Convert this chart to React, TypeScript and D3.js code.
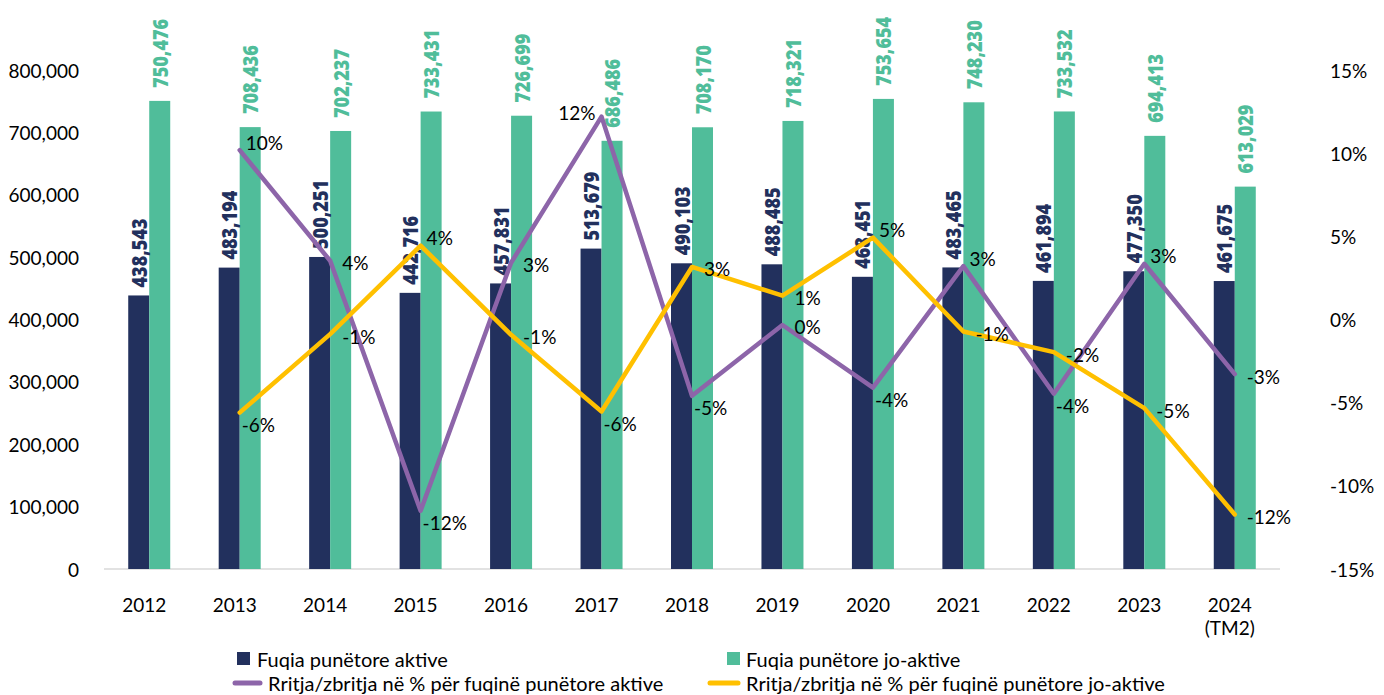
// @ts-nocheck
import * as d3 from "d3";

const years = ["2012", "2013", "2014", "2015", "2016", "2017", "2018", "2019", "2020", "2021", "2022", "2023", "2024"];
const yearSubLabels = ["", "", "", "", "", "", "", "", "", "", "", "", "(TM2)"];
const activeForce = [438543, 483194, 500251, 442716, 457831, 513679, 490103, 488485, 468451, 483465, 461894, 477350, 461675];
const inactiveForce = [750476, 708436, 702237, 733431, 726699, 686486, 708170, 718321, 753654, 748230, 733532, 694413, 613029];
const activeGrowth = [null, 10.18, 3.53, -11.5, 3.41, 12.2, -4.59, -0.33, -4.1, 3.21, -4.46, 3.35, -3.28];
const inactiveGrowth = [null, -5.6, -0.88, 4.44, -0.92, -5.53, 3.16, 1.43, 4.92, -0.72, -1.96, -5.33, -11.72];
const leftTicks = [0, 100000, 200000, 300000, 400000, 500000, 600000, 700000, 800000];
const rightTicks = [-15, -10, -5, 0, 5, 10, 15];

const NAVY = "#22305d";
const GREEN = "#50bd9a";
const PURPLE = "#8d65a9";
const YELLOW = "#ffc000";
const FONT = "Lato, 'Open Sans', sans-serif";
const BOLD_FONT = "'Open Sans', Roboto, sans-serif";

const width = 1384;
const height = 695;
const plotLeft = 104;
const plotRight = 1280;
const plotTop = 70;
const plotBottom = 569;

function pctLabel(v) {
  const r = Math.abs(v) < 0.5 ? 0 : v;
  return `${r.toFixed(0)}%`;
}

// where a growth label sits relative to its point: right, above-right, below-right, left
function placement(series, i) {
  const v = series[i];
  const neighbours = [series[i - 1], series[i + 1]].filter((n) => n != null);
  const valid = series.filter((n) => n != null);
  if (i === series.length - 1) return "right";
  if (v === d3.max(valid) && v > 10 && i > 1) return "left";
  if (neighbours.every((n) => n - v > 3)) return "below";
  if (neighbours.every((n) => v - n > 3)) return "above";
  return "right";
}

const offsets = {
  right: { dx: 12, dy: 2, anchor: "start" },
  above: { dx: 6, dy: -8, anchor: "start" },
  below: { dx: 2, dy: 12, anchor: "start" },
  left: { dx: -6, dy: -4, anchor: "end" },
};

export default function App() {
  const x = d3.scaleBand().domain(years).range([plotLeft, plotRight]).padding(0);
  const y = d3.scaleLinear().domain([0, 800000]).range([plotBottom, plotTop]);
  const y2 = d3.scaleLinear().domain([-15, 15]).range([plotBottom, plotTop]);
  const barW = 21;
  const cx = (yr) => x(yr) + x.bandwidth() / 2;

  const line = d3
    .line()
    .defined((d) => d[1] != null)
    .x((d) => cx(d[0]))
    .y((d) => y2(d[1]));

  const lineSeries = [
    { values: activeGrowth, color: PURPLE },
    { values: inactiveGrowth, color: YELLOW },
  ];

  // compute label spots, then fall back to "right" where the two series' labels would clash
  const labels = [];
  years.forEach((yr, i) => {
    const spots = lineSeries.map((s) => {
      const v = s.values[i];
      if (v == null) return null;
      return { key: s.color + yr, v, yr, side: placement(s.values, i) };
    });
    if (spots[0] && spots[1]) {
      const py = (sp) => y2(sp.v) + offsets[sp.side].dy;
      if (Math.abs(py(spots[0]) - py(spots[1])) < 22) {
        spots.forEach((sp) => (sp.side = "right"));
      }
    }
    spots.forEach((sp) => sp && labels.push(sp));
  });

  return (
    <div style={{ position: "absolute", left: 0, top: 0 }}>
      <svg width={width} height={height} style={{ display: "block", background: "#fff" }}>
        <line x1={plotLeft} x2={plotRight} y1={plotBottom} y2={plotBottom} stroke="#d9d9d9" strokeWidth={1.5} />

        <g fontFamily={FONT} fontSize={19} fill="#000">
          {leftTicks.map((t) => (
            <text key={t} x={79} y={y(t)} textAnchor="end" dominantBaseline="central">
              {d3.format(",")(t)}
            </text>
          ))}
        </g>
        <g fontFamily={FONT} fontSize={19} fill="#000">
          {rightTicks.map((t) => (
            <text key={t} x={1330} y={y2(t)} textAnchor="start" dominantBaseline="central">
              {`${t}%`}
            </text>
          ))}
        </g>
        <g fontFamily={FONT} fontSize={19} fill="#000" textAnchor="middle">
          {years.map((yr, i) => (
            <text key={yr} x={cx(yr) - 5} y={612}>
              {yr}
              {yearSubLabels[i] && (
                <tspan x={cx(yr) - 5} dy={23}>
                  {yearSubLabels[i]}
                </tspan>
              )}
            </text>
          ))}
        </g>

        {years.map((yr, i) => (
          <g key={yr}>
            <rect x={cx(yr) - barW} y={y(activeForce[i])} width={barW} height={plotBottom - y(activeForce[i])} fill={NAVY} />
            <rect x={cx(yr)} y={y(inactiveForce[i])} width={barW} height={plotBottom - y(inactiveForce[i])} fill={GREEN} />
          </g>
        ))}

        <g fontFamily={BOLD_FONT} fontWeight={800} fontSize={21}>
          {years.map((yr, i) => {
            const ax = cx(yr) - barW / 2;
            const ay = y(activeForce[i]) - 8;
            const gx = cx(yr) + barW / 2;
            const gy = y(inactiveForce[i]) - 13;
            return (
              <g key={yr}>
                <text
                  transform={`translate(${ax},${ay}) rotate(-90)`}
                  dominantBaseline="central"
                  fill={NAVY}
                  textLength={69}
                  lengthAdjust="spacingAndGlyphs"
                >
                  {d3.format(",")(activeForce[i])}
                </text>
                <text
                  transform={`translate(${gx},${gy}) rotate(-90)`}
                  dominantBaseline="central"
                  fill={GREEN}
                  textLength={69}
                  lengthAdjust="spacingAndGlyphs"
                >
                  {d3.format(",")(inactiveForce[i])}
                </text>
              </g>
            );
          })}
        </g>

        {lineSeries.map((s) => (
          <path
            key={s.color}
            d={line(years.map((yr, i) => [yr, s.values[i]]))}
            fill="none"
            stroke={s.color}
            strokeWidth={4.5}
            strokeLinejoin="round"
            strokeLinecap="round"
          />
        ))}

        <g fontFamily={FONT} fontSize={19} fill="#000">
          {labels.map((l) => {
            const o = offsets[l.side];
            return (
              <text
                key={l.key}
                x={cx(l.yr) + o.dx}
                y={y2(l.v) + o.dy}
                textAnchor={o.anchor}
                dominantBaseline="central"
              >
                {pctLabel(l.v)}
              </text>
            );
          })}
        </g>

        <g fontFamily={FONT} fontSize={20} fill="#000">
          <rect x={237} y={652} width={13} height={13} fill={NAVY} />
          <text x={257} y={659} dominantBaseline="central">Fuqia punëtore aktive</text>
          <rect x={727} y={652} width={13} height={13} fill={GREEN} />
          <text x={746} y={659} dominantBaseline="central">Fuqia punëtore jo-aktive</text>
          <line x1={235} x2={260} y1={683} y2={683} stroke={PURPLE} strokeWidth={5} strokeLinecap="round" />
          <text x={268} y={683} dominantBaseline="central">Rritja/zbritja në % për fuqinë punëtore aktive</text>
          <line x1={710} x2={738} y1={683} y2={683} stroke={YELLOW} strokeWidth={5} strokeLinecap="round" />
          <text x={746} y={683} dominantBaseline="central">Rritja/zbritja në % për fuqinë punëtore jo-aktive</text>
        </g>
      </svg>
    </div>
  );
}
